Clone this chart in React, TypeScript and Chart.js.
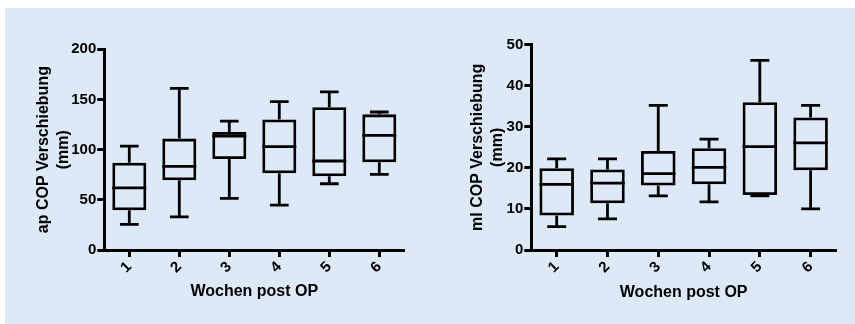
import React, { useEffect, useRef } from 'react';
import { Chart, registerables } from 'chart.js';

Chart.register(...registerables);

const weeks = ['1', '2', '3', '4', '5', '6'];

const apMin = [25.6, 33, 51.5, 44.8, 66, 75.4];
const apQ1 = [39.5, 69.5, 90.7, 76.4, 73.4, 87.4];
const apMedian = [62, 83.4, 113.6, 103, 88.7, 114.3];
const apQ3 = [87, 111, 117.6, 130, 142.2, 135.2];
const apMax = [103.6, 161, 128.5, 147.8, 157.5, 137.5];

const mlMin = [5.7, 7.6, 13.2, 11.7, 13.2, 10.0];
const mlQ1 = [8.4, 11.4, 15.7, 16.0, 13.4, 19.4];
const mlMedian = [16.0, 16.3, 18.6, 20.1, 25.2, 26.1];
const mlQ3 = [19.9, 19.6, 24.1, 24.8, 36.0, 32.3];
const mlMax = [22.2, 22.2, 35.2, 27.0, 46.2, 35.2];

const xTitle = 'Wochen post OP';
const apTitle = ['ap COP Verschiebung', '(mm)'];
const mlTitle = ['ml COP Verschiebung', '(mm)'];

const FONT = "'Liberation Sans', Arial, Helvetica, sans-serif";
const LINE_W = 2.8;

const whiskerPlugin = {
  id: 'whiskers',
  afterDatasetsDraw(chart: any, _args: any, opts: any) {
    const { ctx } = chart;
    const y = chart.scales.y;
    const meta = chart.getDatasetMeta(0);
    const s = opts.stats;
    if (!s) return;
    ctx.save();
    ctx.strokeStyle = '#000';
    ctx.lineWidth = LINE_W;
    ctx.lineCap = 'butt';
    meta.data.forEach((bar: any, i: number) => {
      const cx = bar.x;
      const hw = bar.width / 2;
      const capHw = hw * 0.55;
      const pMin = y.getPixelForValue(s.min[i]);
      const pQ1 = y.getPixelForValue(s.q1[i]);
      const pMed = y.getPixelForValue(s.med[i]);
      const pQ3 = y.getPixelForValue(s.q3[i]);
      const pMax = y.getPixelForValue(s.max[i]);
      ctx.beginPath();
      ctx.moveTo(cx - hw, pMed);
      ctx.lineTo(cx + hw, pMed);
      ctx.moveTo(cx, pQ3);
      ctx.lineTo(cx, pMax);
      ctx.moveTo(cx - capHw, pMax);
      ctx.lineTo(cx + capHw, pMax);
      ctx.moveTo(cx, pQ1);
      ctx.lineTo(cx, pMin);
      ctx.moveTo(cx - capHw, pMin);
      ctx.lineTo(cx + capHw, pMin);
      ctx.stroke();
    });
    ctx.restore();
  },
};

type Cfg = {
  min: number[]; q1: number[]; med: number[]; q3: number[]; max: number[];
  yMax: number; step: number; yTitle: string[];
  yWidth: number; padRight: number; padTop: number; titleOffset: number; xTitlePad: number;
};

function BoxChart({ cfg, width, height }: { cfg: Cfg; width: number; height: number }) {
  const ref = useRef<HTMLCanvasElement | null>(null);
  useEffect(() => {
    if (!ref.current) return;
    const tickFont = { family: FONT, size: 15, weight: 'bold' as const };
    const titleFont = { family: FONT, size: 16, weight: 'bold' as const, lineHeight: 1.2 };
    const chart = new Chart(ref.current, {
      type: 'bar',
      data: {
        labels: weeks,
        datasets: [
          {
            data: weeks.map((_, i) => [cfg.q1[i], cfg.q3[i]]) as any,
            backgroundColor: 'rgba(0,0,0,0)',
            borderColor: '#000',
            borderWidth: LINE_W,
            borderSkipped: false,
            barPercentage: 0.68,
            categoryPercentage: 1,
          },
        ],
      },
      options: {
        responsive: false,
        animation: false,
        devicePixelRatio: 1,
        layout: { padding: { left: 0, right: cfg.padRight, top: cfg.padTop, bottom: 0 } },
        plugins: {
          legend: { display: false },
          tooltip: { enabled: false },
          whiskers: { stats: { min: cfg.min, q1: cfg.q1, med: cfg.med, q3: cfg.q3, max: cfg.max } },
        } as any,
        scales: {
          x: {
            type: 'category',
            offset: true,
            grid: {
              display: true,
              offset: false,
              drawOnChartArea: false,
              drawTicks: true,
              tickLength: 7,
              tickWidth: 3,
              tickColor: '#000',
            },
            border: { display: true, color: '#000', width: 3 },
            ticks: {
              color: '#000',
              font: tickFont,
              minRotation: 45,
              maxRotation: 45,
              padding: 1,
            },
            title: {
              display: true,
              text: xTitle,
              color: '#000',
              font: titleFont,
              padding: { top: 0, bottom: cfg.xTitlePad },
            },
            afterFit: (scale: any) => {
              scale.height = 74;
            },
          },
          y: {
            min: 0,
            max: cfg.yMax,
            grid: {
              display: true,
              drawOnChartArea: false,
              drawTicks: true,
              tickLength: 7,
              tickWidth: 3,
              tickColor: '#000',
            },
            border: { display: true, color: '#000', width: 3 },
            ticks: {
              stepSize: cfg.step,
              color: '#000',
              font: tickFont,
              padding: 1,
            },
            title: {
              display: true,
              text: cfg.yTitle,
              color: '#000',
              font: titleFont,
              padding: { top: cfg.titleOffset, bottom: 0 },
            },
            afterFit: (scale: any) => {
              scale.width = cfg.yWidth;
            },
          },
        },
      } as any,
      plugins: [whiskerPlugin],
    });
    return () => chart.destroy();
  }, [cfg, width, height]);
  return <canvas ref={ref} width={width} height={height} style={{ display: 'block', width, height }} />;
}

const apCfg: Cfg = {
  min: apMin, q1: apQ1, med: apMedian, q3: apQ3, max: apMax,
  yMax: 200, step: 50, yTitle: apTitle,
  yWidth: 104.3, padRight: 23.7, padTop: 49.3, titleOffset: 34.4, xTitlePad: 22.5,
};

const mlCfg: Cfg = {
  min: mlMin, q1: mlQ1, med: mlMedian, q3: mlQ3, max: mlMax,
  yMax: 50, step: 10, yTitle: mlTitle,
  yWidth: 103.3, padRight: 19, padTop: 44.7, titleOffset: 40.3, xTitlePad: 21.5,
};

export default function App() {
  return (
    <div style={{ position: 'absolute', left: 0, top: 0, width: 855, height: 324, background: '#fff', overflow: 'hidden' }}>
      <div style={{ position: 'absolute', left: 5, top: 8, width: 850, height: 316, background: '#dde9f7' }} />
      <div style={{ position: 'absolute', left: 0, top: 0 }}>
        <BoxChart cfg={apCfg} width={428} height={324} />
      </div>
      <div style={{ position: 'absolute', left: 428, top: 0 }}>
        <BoxChart cfg={mlCfg} width={427} height={324} />
      </div>
    </div>
  );
}
